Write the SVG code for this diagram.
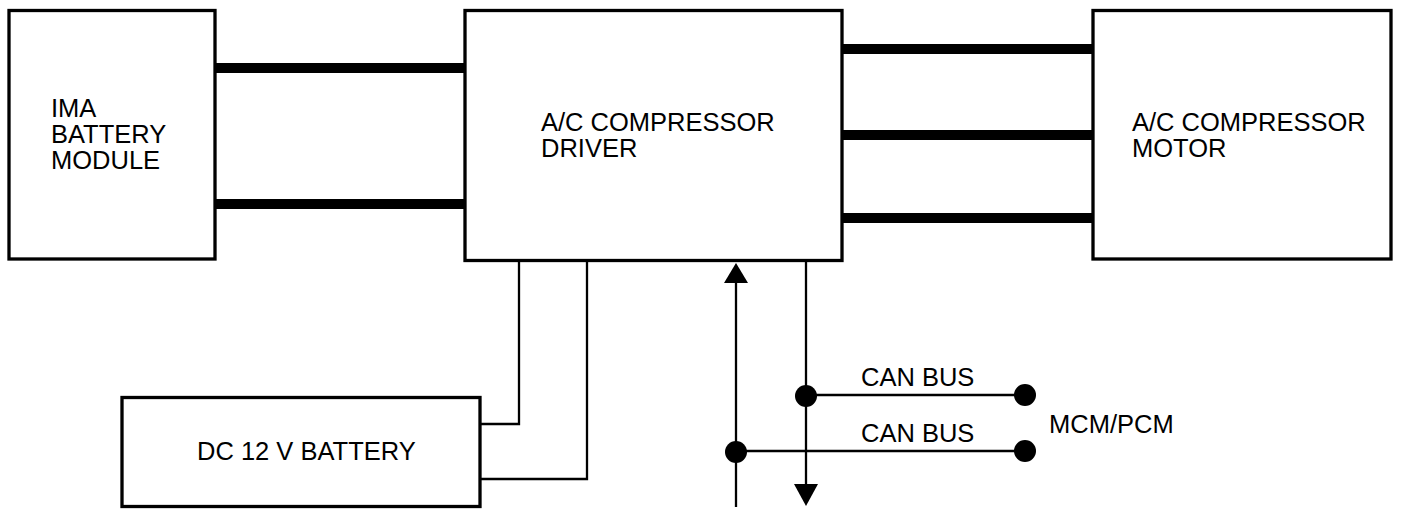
<svg xmlns="http://www.w3.org/2000/svg" width="1408" height="516" viewBox="0 0 1408 516">
<style>
.box{fill:#fff;stroke:#000;stroke-width:3.3}
.lbl{font-family:"Liberation Sans",Arial,sans-serif;font-size:25.5px;fill:#000}
.bus{stroke:#000;stroke-width:10;fill:none}
.wire{stroke:#000;stroke-width:2.3;fill:none}
.dot{fill:#000}
</style>
<rect width="1408" height="516" fill="#fff"/>
<g id="connectors">
<line class="bus" x1="215" y1="68" x2="465" y2="68"/>
<line class="bus" x1="215" y1="204" x2="465" y2="204"/>
<line class="bus" x1="842" y1="49" x2="1093" y2="49"/>
<line class="bus" x1="842" y1="135" x2="1093" y2="135"/>
<line class="bus" x1="842" y1="218" x2="1093" y2="218"/>
<polyline class="wire" points="519,261 519,424 480,424"/>
<polyline class="wire" points="587,261 587,479 480,479"/>
<line class="wire" x1="736" y1="507" x2="736" y2="275"/>
<polygon class="dot" points="736,263 724,283 748,283"/>
<line class="wire" x1="806" y1="261" x2="806" y2="490"/>
<polygon class="dot" points="794,484 818,484 806,506"/>
<line class="wire" x1="806" y1="395" x2="1025" y2="395"/>
<line class="wire" x1="736" y1="451" x2="1025" y2="451"/>
<circle class="dot" cx="806" cy="396" r="11"/>
<circle class="dot" cx="736" cy="452" r="11"/>
<circle class="dot" cx="1025" cy="395" r="11"/>
<circle class="dot" cx="1025" cy="451" r="11"/>
<text class="lbl" x="861" y="386">CAN BUS</text>
<text class="lbl" x="861" y="442">CAN BUS</text>
</g>
<g id="ima">
<rect class="box" x="9" y="10.5" width="206" height="248.5"/>
<text class="lbl" x="51" y="117">IMA</text>
<text class="lbl" x="51" y="143">BATTERY</text>
<text class="lbl" x="51" y="169">MODULE</text>
</g>
<g id="driver">
<rect class="box" x="465" y="10.5" width="377" height="250"/>
<text class="lbl" x="541" y="131">A/C COMPRESSOR</text>
<text class="lbl" x="541" y="157">DRIVER</text>
</g>
<g id="motor">
<rect class="box" x="1093" y="10.5" width="298" height="248.5"/>
<text class="lbl" x="1132" y="131">A/C COMPRESSOR</text>
<text class="lbl" x="1132" y="157">MOTOR</text>
</g>
<g id="battery12">
<rect class="box" x="122" y="397.5" width="358" height="109"/>
<text class="lbl" x="197" y="460">DC 12 V BATTERY</text>
</g>
<g id="mcm">
<text class="lbl" x="1049" y="433">MCM/PCM</text>
</g>
</svg>
